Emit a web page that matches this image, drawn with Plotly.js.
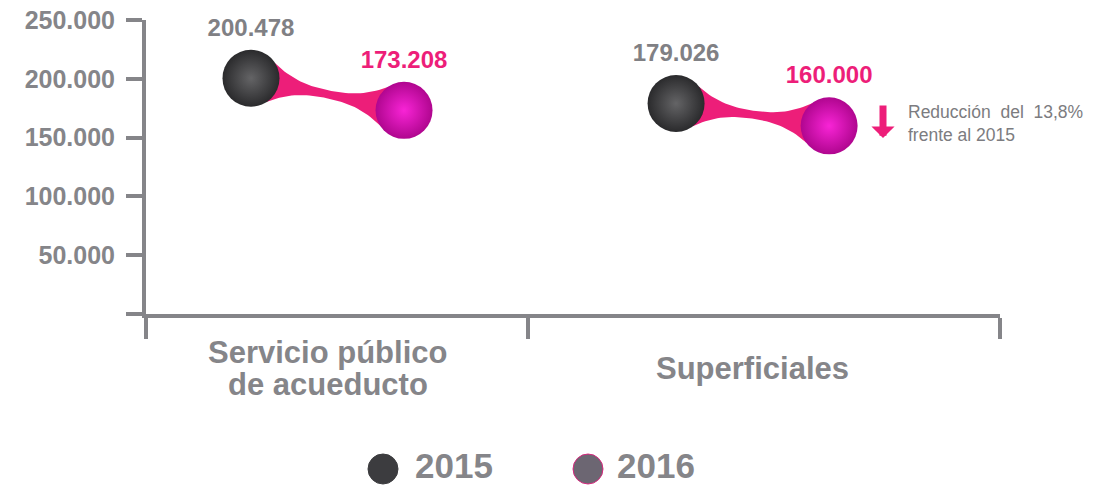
<!DOCTYPE html>
<html>
<head>
<meta charset="utf-8">
<script src="https://cdn.plot.ly/plotly-3.0.1.min.js"></script>
<style>
  html, body { margin: 0; padding: 0; background: #fff; }
  #chart { width: 1095px; height: 488px; }
</style>
</head>
<body>
<div id="chart"></div>
<script>
// data
var categories = ['Servicio público<br>de acueducto', 'Superficiales'];
var years = ['2015', '2016'];
var values2015 = [200478, 179026];
var values2016 = [173208, 160000];
var yTickVals = [0, 50000, 100000, 150000, 200000, 250000];
var noteText = 'Reducción&nbsp; del&nbsp; 13,8%<br>frente al 2015';

// colours
var gray = '#858589';
var pink = '#ed1e79';

// layout geometry
var W = 1095, H = 488;
var M = {l: 146, r: 95, t: 20, b: 174};
var plotW = W - M.l - M.r;
var plotH = H - M.t - M.b;
var xRange = [-0.427, 1.582];
var yRange = [0, 250000];
var pairOffset = 0.18;
var boundary = 0.472;

function fmt(v) {
  return String(v).replace(/\B(?=(\d{3})+(?!\d))/g, '.');
}
function pxX(px) { return (px - M.l) / plotW; }
function pxY(py) { return (M.t + plotH - py) / plotH; }

var kx = plotW / (xRange[1] - xRange[0]);
var ky = plotH / (yRange[1] - yRange[0]);

// pinched ribbon between the two years of one category
function ribbon(xa, ya, xb, yb) {
  var ax = xa * kx, ay = ya * ky, bx = xb * kx, by = yb * ky;
  var dx = bx - ax, dy = by - ay;
  var L = Math.sqrt(dx * dx + dy * dy);
  var ux = dx / L, uy = dy / L;
  var nx = -uy, ny = ux;
  var s0 = 20, hMax = 20, hMin = 4, N = 40;
  var up = [], low = [];
  for (var i = 0; i <= N; i++) {
    var s = s0 + (L - 2 * s0) * i / N;
    var d = Math.min(s, L - s) - s0;
    var m = Math.min(1, d / (L / 2 - s0));
    var h = hMin + (hMax - hMin) * Math.pow(1 - m, 2.4);
    var cx = ax + ux * s, cy = ay + uy * s;
    up.push([cx + nx * h, cy + ny * h]);
    low.push([cx - nx * h, cy - ny * h]);
  }
  var pts = up.concat(low.reverse());
  pts.push(up[0]);
  return {
    x: pts.map(function (p) { return p[0] / kx; }),
    y: pts.map(function (p) { return p[1] / ky; })
  };
}

var traces = [];
categories.forEach(function (c, i) {
  var r = ribbon(i - pairOffset, values2015[i], i + pairOffset, values2016[i]);
  traces.push({
    x: r.x, y: r.y, type: 'scatter', mode: 'lines', fill: 'toself',
    fillcolor: pink, line: {width: 0, color: pink}, hoverinfo: 'skip', showlegend: false
  });
});

traces.push({
  x: categories.map(function (c, i) { return i - pairOffset; }),
  y: values2015,
  name: years[0],
  type: 'scatter',
  mode: 'markers+text',
  text: values2015.map(fmt),
  textposition: 'top center',
  textfont: {family: 'Liberation Sans, Arial, sans-serif', size: 24, color: '#808084', weight: 'bold'},
  marker: {size: 57, color: '#2a2a2c', line: {width: 0}, gradient: {type: 'radial', color: '#646466'}},
  cliponaxis: false,
  showlegend: false
});

traces.push({
  x: categories.map(function (c, i) { return i + pairOffset; }),
  y: values2016,
  name: years[1],
  type: 'scatter',
  mode: 'markers+text',
  text: values2016.map(fmt),
  textposition: 'top center',
  textfont: {family: 'Liberation Sans, Arial, sans-serif', size: 24, color: pink, weight: 'bold'},
  marker: {size: 57, color: '#b0068f', line: {width: 0}, gradient: {type: 'radial', color: '#f824d6'}},
  cliponaxis: false,
  showlegend: false
});

var annotations = [];
var shapes = [];

// category labels
categories.forEach(function (c, i) {
  var lines = c.split('<br>');
  lines.forEach(function (t, j) {
    var yc = 368 + (j - (lines.length - 1) / 2) * 32;
    annotations.push({
      text: t, xref: 'x', yref: 'paper', x: i, y: pxY(yc),
      xanchor: 'center', yanchor: 'middle', showarrow: false,
      font: {family: 'Liberation Sans, Arial, sans-serif', size: 31, color: gray, weight: 'bold'}
    });
  });
});

// note with arrow
annotations.push({
  text: noteText, xref: 'paper', yref: 'paper', x: pxX(906), y: pxY(124),
  xanchor: 'left', yanchor: 'middle', align: 'left', showarrow: false,
  font: {family: 'Liberation Sans, Arial, sans-serif', size: 17.5, color: '#7c7c80'}
});
annotations.push({
  text: '', xref: 'paper', yref: 'paper', x: pxX(883), y: pxY(138),
  ax: 0, ay: -34, showarrow: true, arrowhead: 1, arrowsize: 0.55,
  arrowwidth: 7, arrowcolor: pink
});

// legend
var legendMarks = [
  {cx: 383, tx: 413, fill: '#3c3c3f', line: '#3c3c3f'},
  {cx: 588, tx: 615, fill: '#6c6672', line: '#d8287e'}
];
years.forEach(function (y, i) {
  var lm = legendMarks[i];
  shapes.push({
    type: 'circle', xref: 'paper', yref: 'paper',
    xsizemode: 'pixel', ysizemode: 'pixel',
    xanchor: pxX(lm.cx), yanchor: pxY(469),
    x0: -15, x1: 15, y0: -15, y1: 15,
    fillcolor: lm.fill, line: {color: lm.line, width: 1}
  });
  annotations.push({
    text: y, xref: 'paper', yref: 'paper', x: pxX(lm.tx), y: pxY(465),
    xanchor: 'left', yanchor: 'middle', showarrow: false,
    font: {family: 'Liberation Sans, Arial, sans-serif', size: 35, color: gray, weight: 'bold'}
  });
});

var layout = {
  width: W,
  height: H,
  margin: M,
  paper_bgcolor: '#fff',
  plot_bgcolor: '#fff',
  showlegend: false,
  font: {family: 'Liberation Sans, Arial, sans-serif', color: gray},
  xaxis: {
    range: xRange,
    showgrid: false,
    zeroline: false,
    showline: true,
    linecolor: gray,
    linewidth: 4,
    ticks: 'outside',
    ticklen: 21,
    tickwidth: 4,
    tickcolor: gray,
    tickmode: 'array',
    tickvals: [xRange[0], boundary, xRange[1]],
    showticklabels: false,
    fixedrange: true
  },
  yaxis: {
    range: yRange,
    showgrid: false,
    zeroline: false,
    showline: true,
    linecolor: gray,
    linewidth: 4,
    ticks: 'outside',
    ticklen: 16,
    tickwidth: 4,
    tickcolor: gray,
    tickmode: 'array',
    tickvals: yTickVals,
    ticktext: yTickVals.map(function (v) { return v ? fmt(v) : ''; }),
    ticklabelstandoff: 6,
    tickfont: {family: 'Liberation Sans, Arial, sans-serif', size: 25, color: gray, weight: 'bold'},
    fixedrange: true
  },
  annotations: annotations,
  shapes: shapes
};

Plotly.newPlot('chart', traces, layout, {staticPlot: true, displayModeBar: false});
</script>
</body>
</html>
